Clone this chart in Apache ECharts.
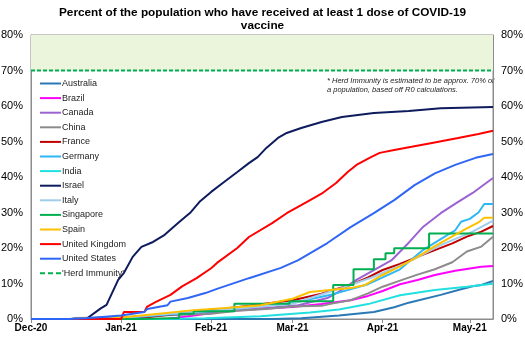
<!DOCTYPE html>
<html><head><meta charset="utf-8">
<script src="https://cdn.jsdelivr.net/npm/echarts@6/dist/echarts.min.js"></script>
<style>html,body{margin:0;padding:0;background:#fff}#c{width:525px;height:343px}</style>
</head><body><div id="c"></div>
<script>
// ---- Data (percent of population with at least 1 dose) ----
const countries = ['Australia','Brazil','Canada','China','France','Germany','India','Israel','Italy','Singapore','Spain','United Kingdom','United States'];
const herdLabel = "'Herd Immunity'";
const herdLevel = 70;
const xStart = '2020-12-01';
const xEnd = '2021-05-09';
const tickDates = ['2020-12-01','2021-01-01','2021-02-01','2021-03-01','2021-04-01','2021-05-01'];
const tickLabels = ['Dec-20','Jan-21','Feb-21','Mar-21','Apr-21','May-21'];
const yTicks = [0,10,20,30,40,50,60,70,80];

const australia = [['2020-12-01',0],['2021-02-22',0],['2021-03-04',0.2],['2021-03-17',1.0],['2021-03-29',2.0],['2021-04-05',3.3],['2021-04-10',4.6],['2021-04-21',6.8],['2021-04-28',8.4],['2021-05-02',9.2],['2021-05-05',9.6],['2021-05-09',10.7]];
const brazil = [['2020-12-01',0],['2021-01-17',0],['2021-01-26',1.0],['2021-02-06',2.2],['2021-02-18',2.9],['2021-03-01',3.4],['2021-03-11',4.2],['2021-03-21',5.3],['2021-03-27',6.5],['2021-04-01',7.9],['2021-04-07',9.8],['2021-04-13',11.0],['2021-04-19',12.4],['2021-04-26',13.6],['2021-05-05',14.7],['2021-05-09',14.9]];
const canada = [['2020-12-01',0],['2020-12-14',0],['2021-01-01',0.3],['2021-01-15',1.2],['2021-01-28',1.7],['2021-02-09',2.5],['2021-02-20',3.1],['2021-03-03',3.9],['2021-03-13',5.9],['2021-03-17',7.7],['2021-03-23',11],['2021-03-29',13.8],['2021-04-04',16.5],['2021-04-10',21.5],['2021-04-15',26],['2021-04-21',29.8],['2021-04-27',33],['2021-05-02',35.5],['2021-05-09',39.7]];
const china = [['2020-12-01',0],['2020-12-15',0],['2020-12-16',0.3],['2021-01-01',0.5],['2021-01-15',1.0],['2021-02-01',1.5],['2021-02-10',2.3],['2021-02-20',2.8],['2021-03-01',3.5],['2021-03-11',3.7],['2021-03-15',4.4],['2021-03-21',5.3],['2021-03-27',7.2],['2021-04-01',9.1],['2021-04-07',10.8],['2021-04-13',12.5],['2021-04-19',14.0],['2021-04-25',16.0],['2021-04-30',19.0],['2021-05-05',20.4],['2021-05-09',23.2]];
const france = [['2020-12-01',0],['2020-12-27',0],['2021-01-10',0.5],['2021-02-01',2.5],['2021-02-14',3.7],['2021-03-01',5.3],['2021-03-11',7.1],['2021-03-15',8.2],['2021-03-21',9.6],['2021-03-27',11.7],['2021-04-01',13.8],['2021-04-07',15.5],['2021-04-13',17.5],['2021-04-19',19.4],['2021-04-25',21.3],['2021-04-30',23.2],['2021-05-05',24.6],['2021-05-09',26.2]];
const germany = [['2020-12-01',0],['2020-12-27',0],['2021-01-10',0.8],['2021-02-01',2.2],['2021-03-01',4.5],['2021-03-15',7.0],['2021-03-27',9.8],['2021-04-07',14],['2021-04-15',19.5],['2021-04-21',22.5],['2021-04-26',25],['2021-04-28',27.4],['2021-05-01',28.2],['2021-05-04',30],['2021-05-06',32.4],['2021-05-09',32.4]];
const india = [['2020-12-01',0],['2021-01-16',0],['2021-01-30',0.2],['2021-02-18',0.8],['2021-03-07',1.8],['2021-03-17',2.7],['2021-03-27',4.2],['2021-04-07',6.7],['2021-04-19',8.2],['2021-04-30',9.1],['2021-05-09',9.9]];
const israel = [['2020-12-01',0],['2020-12-20',0],['2020-12-25',3],['2020-12-27',4],['2020-12-31',11],['2021-01-02',13],['2021-01-05',17.5],['2021-01-08',20.3],['2021-01-12',21.7],['2021-01-16',23.7],['2021-01-21',27.3],['2021-01-25',30.1],['2021-01-28',33],['2021-02-01',35.8],['2021-02-05',38.3],['2021-02-10',41.4],['2021-02-14',43.9],['2021-02-17',45.6],['2021-02-20',48.2],['2021-02-24',51],['2021-02-27',52.4],['2021-03-04',53.8],['2021-03-11',55.5],['2021-03-18',56.9],['2021-03-29',58],['2021-04-10',58.6],['2021-04-21',59.4],['2021-05-09',59.7]];
const italy = [['2020-12-01',0],['2020-12-27',0],['2021-01-10',1.0],['2021-02-01',2.3],['2021-03-01',4.3],['2021-03-17',8.5],['2021-03-29',11.9],['2021-04-10',16.1],['2021-04-21',20.8],['2021-05-02',24.6],['2021-05-09',27.7]];
const singapore = [['2020-12-01',0],['2021-01-08',0.3],['2021-01-21',1.5],['2021-01-26',2.2],['2021-02-09',4.3],['2021-02-28',5.0],['2021-03-15',9.6],['2021-03-22',14],['2021-03-29',16.8],['2021-04-02',18.5],['2021-04-05',19.9],['2021-04-17',24.1],['2021-05-09',24.1]];
const spain = [['2020-12-01',0],['2020-12-27',0],['2021-01-14',1.5],['2021-01-26',2.5],['2021-02-06',3.1],['2021-02-18',3.9],['2021-03-01',5.7],['2021-03-07',7.6],['2021-03-13',8.1],['2021-03-21',8.7],['2021-03-26',9.6],['2021-04-01',12.4],['2021-04-07',14.8],['2021-04-13',17.5],['2021-04-19',20.5],['2021-04-25',23.3],['2021-04-30',25.5],['2021-05-04',27.2],['2021-05-06',28.5],['2021-05-09',28.5]];
const unitedKingdom = [['2020-12-01',0],['2021-01-01',0],['2021-01-02',2.0],['2021-01-09',2.0],['2021-01-10',3.5],['2021-01-13',4.8],['2021-01-18',6.8],['2021-01-22',9.2],['2021-01-27',11.5],['2021-02-01',14.3],['2021-02-03',15.8],['2021-02-10',20.0],['2021-02-14',23.1],['2021-02-22',27],['2021-02-27',29.8],['2021-03-06',33],['2021-03-11',35.3],['2021-03-16',38.3],['2021-03-20',41.4],['2021-03-23',43.4],['2021-03-28',45.6],['2021-03-31',46.8],['2021-04-05',47.6],['2021-04-11',48.5],['2021-04-18',49.6],['2021-04-27',51],['2021-05-04',52.1],['2021-05-09',53]];
const unitedStates = [['2020-12-01',0],['2020-12-14',0],['2020-12-20',0.2],['2021-01-01',1.0],['2021-01-09',2.0],['2021-01-10',2.8],['2021-01-17',3.9],['2021-01-18',4.9],['2021-01-24',5.9],['2021-01-30',7.3],['2021-02-03',8.5],['2021-02-14',11.5],['2021-02-25',14.4],['2021-03-03',16.6],['2021-03-13',21.4],['2021-03-21',25.9],['2021-03-29',29.8],['2021-04-05',33.5],['2021-04-12',37.7],['2021-04-19',41],['2021-04-26',43.4],['2021-05-03',45.4],['2021-05-09',46.5]];

const seriesData = [australia,brazil,canada,china,france,germany,india,israel,italy,singapore,spain,unitedKingdom,unitedStates];
const colors = ['#2A78B4','#FF00FF','#9B62D2','#8C8C8C','#C00000','#2DB8F5','#22E0E0','#0E1C5E','#9FCDEB','#00B050','#FFC000','#FF0000','#2F66F5'];
const herdColor = '#00B050';

function toTs(s){ const p=s.split('-').map(Number); return Date.UTC(p[0],p[1]-1,p[2]); }
const tickTs = tickDates.map(toTs);
function xLabel(v){ const i = tickTs.findIndex(t => Math.abs(t - v) < 43200000); return i >= 0 ? tickLabels[i] : ''; }
const toPts = arr => arr.map(d => [toTs(d[0]), d[1]]);

const font = 'Liberation Sans, Arial, sans-serif';
const series = countries.map((name, i) => ({
  name, type:'line', data: toPts(seriesData[i]), showSymbol:false, symbol:'none',
  step: name === 'Singapore' ? 'end' : false,
  lineStyle:{width:2, color: colors[i]}, itemStyle:{color: colors[i]},
  emphasis:{disabled:true}, animation:false, z: 3
}));
series.push({
  name: herdLabel, type:'line', data: toPts([[xStart, herdLevel],[xEnd, herdLevel]]), showSymbol:false, symbol:'none',
  lineStyle:{width:2, color: herdColor, type:[4,2]}, itemStyle:{color: herdColor},
  emphasis:{disabled:true}, animation:false, z: 2,
  markArea:{silent:true, itemStyle:{color:'#EAF5DC'}, data:[[{yAxis: herdLevel},{yAxis: 80}]]}
});

const legendData = countries.map(n => ({name:n, icon:'rect'}));
legendData.push({name: herdLabel, icon:'path://M0,0h5v2h-5z M8,0h5v2h-5z M16,0h5v2h-5z'});

const chart = echarts.init(document.getElementById('c'), null, {renderer:'canvas'});
chart.setOption({
  animation:false,
  title:{text:'Percent of the population who have received at least 1 dose of COVID-19\nvaccine', left:'center', top:6, padding:0,
    textStyle:{fontFamily:font, fontSize:11.8, fontWeight:'bold', color:'#000', lineHeight:13}},
  grid:{left:31, right:32, top:35, bottom:24, show:true, borderColor:'#8c8c8c', borderWidth:1, outerBoundsMode:'none'},
  legend:{orient:'vertical', left:40, top:79, padding:0, itemWidth:21, itemHeight:2, itemGap:5.6,
    textStyle:{fontFamily:font, fontSize:9, color:'#222', padding:[0,0,0,-4]}, data: legendData, selectedMode:false},
  xAxis:{type:'value', min: toTs(xStart), max: toTs(xEnd),
    axisLine:{show:true, lineStyle:{color:'#8c8c8c'}},
    axisTick:{show:true, customValues: tickTs, length:4, lineStyle:{color:'#8c8c8c'}},
    axisLabel:{customValues: tickTs, formatter: xLabel, fontFamily:font, fontSize:10, fontWeight:'bold', color:'#000', margin:4},
    splitLine:{show:false}, minorTick:{show:false}},
  yAxis:[
    {type:'value', min:0, max:80, interval:10, position:'left',
     axisLine:{show:true, lineStyle:{color:'#8c8c8c'}}, axisTick:{show:false}, splitLine:{show:false},
     axisLabel:{formatter:'{value}%', fontFamily:font, fontSize:11, color:'#000', margin:8}},
    {type:'value', min:0, max:80, interval:10, position:'right',
     axisLine:{show:true, lineStyle:{color:'#8c8c8c'}}, axisTick:{show:false}, splitLine:{show:false},
     axisLabel:{formatter:'{value}%', fontFamily:font, fontSize:11, color:'#000', margin:8}}
  ],
  graphic:[
    {type:'text', left:327, top:77, style:{text:'* Herd Immunity is estimated to be approx. 70% of\na population, based off R0 calculations.', fontFamily:font, fontSize:7.5, fontStyle:'italic', fill:'#222', lineHeight:8.7}}
  ],
  series
});
</script></body></html>
